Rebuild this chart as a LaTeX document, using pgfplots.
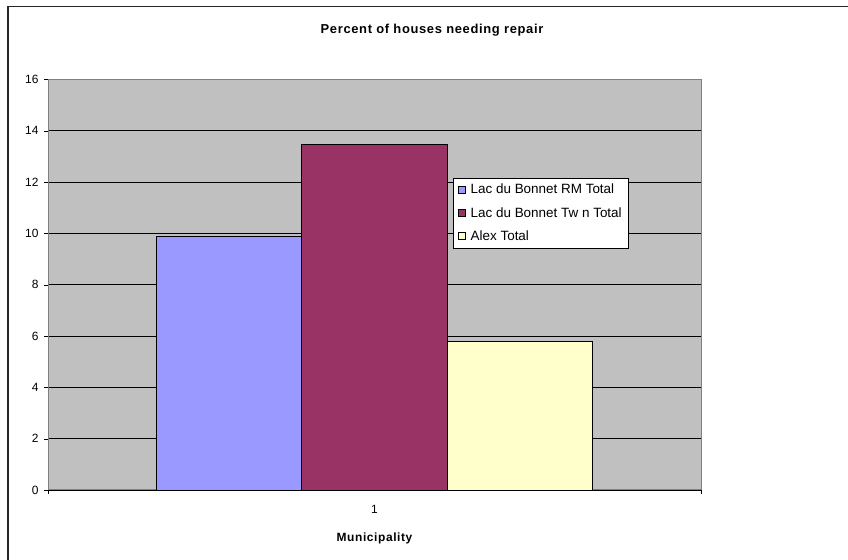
\documentclass[border=0pt]{standalone}
\usepackage{pgfplots}
\pgfplotsset{compat=1.18}
\usepackage{fontspec}
\setmainfont{Liberation Sans}

\definecolor{rmblue}{HTML}{9999FF}
\definecolor{twnred}{HTML}{993366}
\definecolor{alexyel}{HTML}{FFFFCC}
\definecolor{plotgray}{HTML}{C0C0C0}
\definecolor{framegray}{HTML}{808080}

\begin{document}
\begin{tikzpicture}[x=1bp,y=1bp]
  % page size and the visible edges of the chart frame
  \useasboundingbox (0,0) rectangle (848,560);
  \draw[black!85, line width=1.5bp] (8,0) -- (8,553.5) -- (848,553.5);
  \node[font=\bfseries\fontsize{13}{15}\selectfont\addfontfeature{LetterSpace=5}] at (432,530) {Percent of houses needing repair};

  \begin{axis}[
    at={(48bp,70bp)}, anchor=south west,
    width=653bp, height=410.7bp, scale only axis,
    ybar=0pt, bar width=145.3bp,
    xmin=0.5, xmax=1.5,
    ymin=0, ymax=16,
    ytick={0,2,...,16},
    xtick={0.5,1.5}, xticklabels={},
    extra x ticks={1}, extra x tick labels={1},
    extra x tick style={major tick length=0pt, grid=none,
      xticklabel style={yshift=-12bp}},
    major tick length=4bp,
    tick style={black},
    tick align=outside,
    tick pos=left,
    /pgf/number format/assume math mode=true,
    ymajorgrids, grid style={black, line width=0.8bp},
    axis background/.style={fill=plotgray},
    axis line style={framegray, line width=1bp},
    tick label style={font=\fontsize{12}{14}\selectfont},
    yticklabel style={xshift=-2bp},
    xlabel={Municipality},
    xlabel style={font=\bfseries\fontsize{12}{14}\selectfont\addfontfeature{LetterSpace=5}, yshift=-8bp},
    legend style={at={(0.620,0.760)}, anchor=north west, draw=black, fill=white,
      font=\fontsize{13.5}{15}\selectfont, row sep=8bp, inner xsep=5bp, inner ysep=4bp},
    legend cell align=left,
    legend image code/.code={\draw[#1, draw=black, line width=0.6bp] (0bp,-3.5bp) rectangle (7bp,3.5bp);},
    legend style={/tikz/every odd column/.append style={column sep=3bp}},
  ]
    \addplot[fill=rmblue, draw=black, line width=0.8bp] coordinates {(1,9.87)};
    \addplot[fill=twnred, draw=black, line width=0.8bp] coordinates {(1,13.48)};
    \addplot[fill=alexyel, draw=black, line width=0.8bp] coordinates {(1,5.8)};
    \legend{Lac du Bonnet RM Total, Lac du Bonnet Tw n Total, Alex Total}
  \end{axis}
\end{tikzpicture}
\end{document}
